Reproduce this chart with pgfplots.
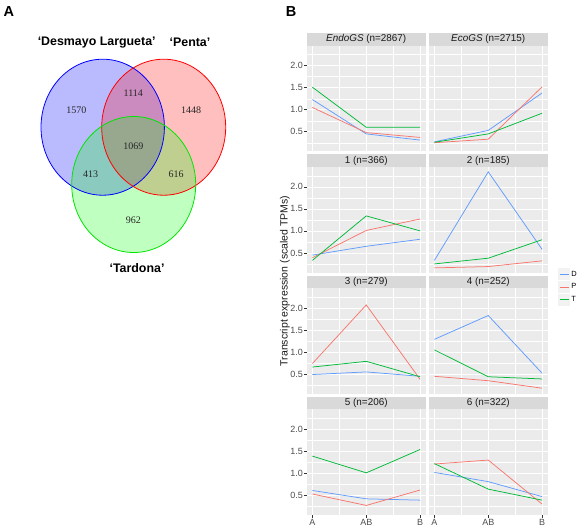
\documentclass[border=0pt]{standalone}
\usepackage{pgfplots}
\pgfplotsset{compat=1.18}
\usepackage{fontspec}
\setmainfont{Liberation Sans}
\newfontfamily\seriffont{Liberation Serif}
\definecolor{cD}{HTML}{619CFF}
\definecolor{cP}{HTML}{F8766D}
\definecolor{cT}{HTML}{00BA38}
\definecolor{panelbg}{HTML}{EBEBEB}
\definecolor{stripbg}{HTML}{D9D9D9}
\definecolor{grey30}{HTML}{4D4D4D}
\definecolor{grey20}{HTML}{333333}
\definecolor{grey10}{HTML}{1A1A1A}
\definecolor{keybg}{HTML}{F2F2F2}
\definecolor{vblue}{HTML}{0000FF}
\definecolor{vred}{HTML}{FF0000}
\definecolor{vgreen}{HTML}{00FF00}

\pgfplotsset{
 facet/.style={
  scale only axis, width=118.5pt, height=105.5pt,
  xmin=-0.1, xmax=2.1, ymin=0.055, ymax=2.45,
  axis background/.style={fill=panelbg},
  axis line style={draw=none},
  xmajorgrids, ymajorgrids, xminorgrids, yminorgrids,
  major grid style={white, line width=0.6pt},
  minor grid style={white, line width=0.3pt},
  xtick={0,1,2}, minor xtick={0.5,1.5},
  ytick={0.5,1,1.5,2}, minor ytick={0.25,0.75,1.25,1.75,2.25},
  xticklabels={}, yticklabels={},
  tick align=outside, major tick length=2.75pt, minor tick length=0pt,
  tick style={grey20, line width=0.5pt},
  xtick pos=bottom, ytick pos=left,
  xmajorticks=false, ymajorticks=false,
  ticklabel style={font=\fontsize{9}{9}\selectfont, text=grey30, inner sep=1.2pt},
  every axis title shift=0pt,
  title style={at={(0.5,1)}, anchor=south, fill=stripbg, minimum width=118.5pt,
    minimum height=12.5pt, inner sep=0pt, text=grey10, font=\fontsize{9.9}{10}\selectfont},
  every axis plot/.append style={line width=0.75pt, mark=none},
 },
 leftcol/.style={ymajorticks=true, yticklabels={0.5,1.0,1.5,2.0}},
 bottomrow/.style={xmajorticks=true, xticklabels={A,AB,B}},
}

\begin{document}
\begin{tikzpicture}
\path (0pt,0pt) rectangle (583pt,-528pt);

% ---------------- Panel A: Venn diagram ----------------
\begin{axis}[at={(0pt,0pt)}, anchor=north west, scale only axis,
  width=260pt, height=280pt, xmin=0, xmax=260, ymin=-280, ymax=0,
  axis lines=none, clip=false]
\fill[vblue, fill opacity=0.27] (axis cs:102.7,-127.2) ellipse [x radius=61.7, y radius=68];
\fill[vred, fill opacity=0.25] (axis cs:163.7,-127.2) ellipse [x radius=62, y radius=68];
\fill[vgreen, fill opacity=0.25] (axis cs:133.7,-184.5) ellipse [x radius=62, y radius=68];
\draw[vblue, line width=0.8pt] (axis cs:102.7,-127.2) ellipse [x radius=61.7, y radius=68];
\draw[vred, line width=0.8pt] (axis cs:163.7,-127.2) ellipse [x radius=62, y radius=68];
\draw[vgreen!90!black, line width=0.8pt] (axis cs:133.7,-184.5) ellipse [x radius=62, y radius=68];
\begin{scope}[every node/.style={font=\seriffont\fontsize{10}{10}\selectfont, text=black!85}]
\node at (axis cs:76.3,-110) {1570};
\node at (axis cs:133.3,-92.7) {1114};
\node at (axis cs:191,-110) {1448};
\node at (axis cs:133.3,-146) {1069};
\node at (axis cs:90.7,-174) {413};
\node at (axis cs:176,-174) {616};
\node at (axis cs:133.3,-220) {962};
\end{scope}
\begin{scope}[every node/.style={font=\bfseries\fontsize{12.4}{13}\selectfont}]
\node at (axis cs:96.7,-42.7) {‘Desmayo Largueta’};
\node at (axis cs:190,-42.7) {‘Penta’};
\node at (axis cs:137,-267.7) {‘Tardona’};
\end{scope}
\end{axis}

\node[font=\bfseries\fontsize{14.5}{15}\selectfont] at (8.8pt,-11.7pt) {A};
\node[font=\bfseries\fontsize{14.5}{15}\selectfont] at (291pt,-12pt) {B};
\node[rotate=90, font=\fontsize{10.5}{11}\selectfont, text=grey10] at (285pt,-281pt) {Transcript expression (scaled TPMs)};

% ---------------- Panel B: facets ----------------
% Row 1
\begin{axis}[facet, leftcol, at={(307pt,-45.8pt)}, anchor=north west, title={\textit{EndoGS} (n=2867)}]
\addplot[cD] coordinates {(0,1.23) (1,0.45) (2,0.31)};
\addplot[cP] coordinates {(0,1.05) (1,0.48) (2,0.37)};
\addplot[cT] coordinates {(0,1.51) (1,0.60) (2,0.60)};
\end{axis}
\begin{axis}[facet, at={(429pt,-45.8pt)}, anchor=north west, title={\textit{EcoGS} (n=2715)}]
\addplot[cD] coordinates {(0,0.27) (1,0.53) (2,1.38)};
\addplot[cP] coordinates {(0,0.25) (1,0.33) (2,1.52)};
\addplot[cT] coordinates {(0,0.26) (1,0.45) (2,0.92)};
\end{axis}
% Row 2
\begin{axis}[facet, leftcol, at={(307pt,-167.0pt)}, anchor=north west, title={1 (n=366)}]
\addplot[cD] coordinates {(0,0.45) (1,0.65) (2,0.81)};
\addplot[cP] coordinates {(0,0.39) (1,1.01) (2,1.27)};
\addplot[cT] coordinates {(0,0.33) (1,1.34) (2,1.00)};
\end{axis}
\begin{axis}[facet, at={(429pt,-167.0pt)}, anchor=north west, title={2 (n=185)}]
\addplot[cD] coordinates {(0,0.33) (1,2.34) (2,0.58)};
\addplot[cP] coordinates {(0,0.16) (1,0.19) (2,0.32)};
\addplot[cT] coordinates {(0,0.25) (1,0.38) (2,0.80)};
\end{axis}
% Row 3
\begin{axis}[facet, leftcol, at={(307pt,-288.2pt)}, anchor=north west, title={3 (n=279)}]
\addplot[cD] coordinates {(0,0.49) (1,0.55) (2,0.45)};
\addplot[cP] coordinates {(0,0.74) (1,2.07) (2,0.38)};
\addplot[cT] coordinates {(0,0.66) (1,0.79) (2,0.44)};
\end{axis}
\begin{axis}[facet, at={(429pt,-288.2pt)}, anchor=north west, title={4 (n=252)},
  legend entries={D,P,T},
  legend style={draw=none, fill=none, at={(1.09,1.19)}, anchor=north west,
    font=\fontsize{7.5}{8}\selectfont, inner sep=0pt, row sep=1pt,
    nodes={inner sep=1.2pt}},
  legend cell align=left,
  legend image code/.code={\fill[keybg] (0pt,-5.5pt) rectangle (11pt,5.5pt);
    \draw[#1] (1pt,0pt) -- (10pt,0pt);}]
\addplot[cD] coordinates {(0,1.29) (1,1.83) (2,0.52)};
\addplot[cP] coordinates {(0,0.45) (1,0.35) (2,0.18)};
\addplot[cT] coordinates {(0,1.05) (1,0.44) (2,0.39)};
\end{axis}
% Row 4
\begin{axis}[facet, leftcol, bottomrow, at={(307pt,-409.4pt)}, anchor=north west, title={5 (n=206)}]
\addplot[cD] coordinates {(0,0.61) (1,0.42) (2,0.39)};
\addplot[cP] coordinates {(0,0.53) (1,0.27) (2,0.62)};
\addplot[cT] coordinates {(0,1.39) (1,1.01) (2,1.54)};
\end{axis}
\begin{axis}[facet, bottomrow, at={(429pt,-409.4pt)}, anchor=north west, title={6 (n=322)}]
\addplot[cD] coordinates {(0,1.02) (1,0.81) (2,0.47)};
\addplot[cP] coordinates {(0,1.21) (1,1.30) (2,0.30)};
\addplot[cT] coordinates {(0,1.22) (1,0.64) (2,0.39)};
\end{axis}
\end{tikzpicture}
\end{document}
